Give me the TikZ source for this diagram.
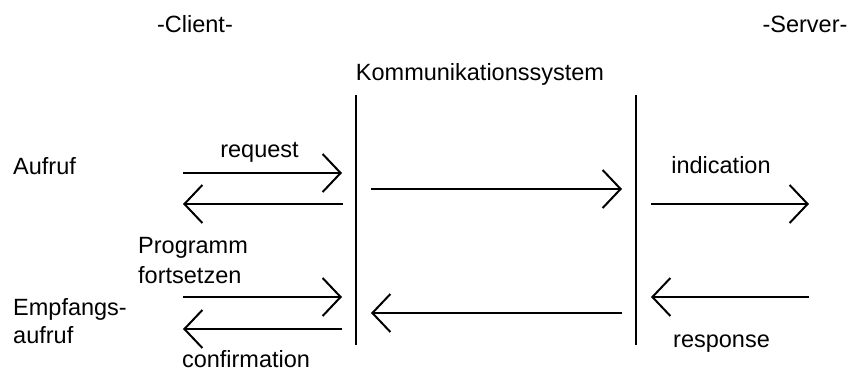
\documentclass[tikz,border=0pt]{standalone}
\usepackage{fontspec}
\setmainfont{Liberation Sans}
\usetikzlibrary{arrows.meta}
\begin{document}
\begin{tikzpicture}[x=1pt,y=-1pt,
  lbl/.style={inner sep=0pt,font=\fontsize{23.5}{27}\selectfont},
  lifeline/.style={line width=2pt},
  msg/.style={line width=2pt,-{Straight Barb[length=18pt,width=38pt,line width=2pt]}}]
\useasboundingbox (0,0) rectangle (861,378);
% titles
\node[lbl,anchor=base] (client) at (195,32) {-Client-};
\node[lbl,anchor=base] (server) at (805,32) {-Server-};
\node[lbl,anchor=base] (komm) at (480,80) {Kommunikationssystem};
% lifelines
\coordinate (l1t) at (356,95);
\coordinate (l1b) at (356,345);
\coordinate (l2t) at (636,95);
\coordinate (l2b) at (636,345);
\draw[lifeline] (l1t) -- (l1b);
\draw[lifeline] (l2t) -- (l2b);
% labels
\node[lbl,anchor=base west] (aufruf) at (13,174) {Aufruf};
\node[lbl,anchor=base] (request) at (259.5,157) {request};
\node[lbl,anchor=base] (indication) at (721,173) {indication};
\node[lbl,anchor=base west] (prog1) at (138,253) {Programm};
\node[lbl,anchor=base west] (prog2) at (138,283) {fortsetzen};
\node[lbl,anchor=base west] (emp1) at (13,315) {Empfangs-};
\node[lbl,anchor=base west] (emp2) at (13,343) {aufruf};
\node[lbl,anchor=base] (response) at (721.5,347) {response};
\node[lbl,anchor=base] (confirmation) at (246,367) {confirmation};
% arrow end points
\coordinate (a1s) at (183,173); \coordinate (a1e) at (342,173);
\coordinate (a2s) at (343,204); \coordinate (a2e) at (183,204);
\coordinate (a3s) at (183,297); \coordinate (a3e) at (342,297);
\coordinate (a4s) at (342,329); \coordinate (a4e) at (183,329);
\coordinate (m1s) at (371,189); \coordinate (m1e) at (622,189);
\coordinate (m2s) at (622,313); \coordinate (m2e) at (371,313);
\coordinate (s1s) at (651,204); \coordinate (s1e) at (809,204);
\coordinate (s2s) at (809,297); \coordinate (s2e) at (651,297);
\draw[msg] (a1s) -- (a1e);
\draw[msg] (a2s) -- (a2e);
\draw[msg] (a3s) -- (a3e);
\draw[msg] (a4s) -- (a4e);
\draw[msg] (m1s) -- (m1e);
\draw[msg] (m2s) -- (m2e);
\draw[msg] (s1s) -- (s1e);
\draw[msg] (s2s) -- (s2e);
\end{tikzpicture}
\end{document}
